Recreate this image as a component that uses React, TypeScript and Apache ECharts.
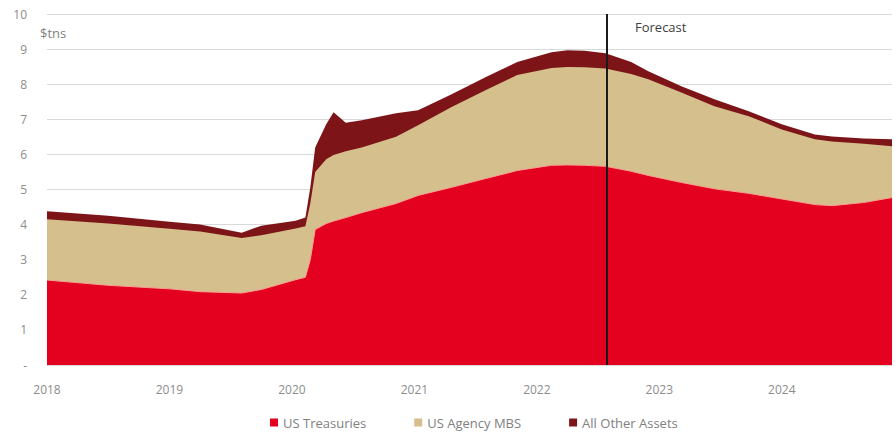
import React, { useEffect, useRef } from "react";
import * as echarts from "echarts";

// Time points as decimal years
const dates = [
  2018.0, 2018.5, 2019.0, 2019.25, 2019.59, 2019.75, 2020.03, 2020.11, 2020.15,
  2020.19, 2020.28, 2020.34, 2020.44, 2020.57, 2020.85, 2021.03, 2021.3, 2021.58,
  2021.84, 2022.12, 2022.25, 2022.39, 2022.56, 2022.77, 2022.91, 2023.18, 2023.45,
  2023.73, 2024.0, 2024.27, 2024.41, 2024.67, 2024.9,
];

// $ trillions
const usTreasuries = [
  2.42, 2.27, 2.17, 2.09, 2.05, 2.15, 2.43, 2.5, 3.0,
  3.86, 4.03, 4.1, 4.2, 4.34, 4.6, 4.83, 5.06, 5.31,
  5.54, 5.69, 5.7, 5.69, 5.66, 5.52, 5.4, 5.2, 5.02,
  4.89, 4.73, 4.57, 4.54, 4.63, 4.77,
];
const usAgencyMBS = [
  1.73, 1.76, 1.71, 1.71, 1.57, 1.55, 1.46, 1.45, 1.6,
  1.64, 1.83, 1.88, 1.89, 1.86, 1.9, 2.0, 2.28, 2.52,
  2.72, 2.77, 2.79, 2.79, 2.79, 2.77, 2.74, 2.56, 2.35,
  2.2, 1.98, 1.86, 1.83, 1.67, 1.46,
];
const allOtherAssets = [
  0.23, 0.22, 0.2, 0.2, 0.15, 0.27, 0.22, 0.25, 0.46,
  0.7, 1.0, 1.22, 0.81, 0.77, 0.67, 0.43, 0.37, 0.37,
  0.37, 0.45, 0.48, 0.47, 0.43, 0.34, 0.23, 0.18, 0.2,
  0.14, 0.15, 0.14, 0.14, 0.15, 0.2,
];

const seriesNames = ["US Treasuries", "US Agency MBS", "All Other Assets"];
const forecastStart = 2022.565;
const unitLabel = "$tns";
const forecastLabel = "Forecast";

const FONT = "'Open Sans', 'Noto Sans', sans-serif";
const RED = "#e4001f";
const TAN = "#d5bf8d";
const DARK = "#7d1518";

export default function App() {
  const ref = useRef<HTMLDivElement>(null);

  useEffect(() => {
    if (!ref.current) return;
    const chart = echarts.init(ref.current, undefined, { renderer: "svg" });

    // cumulative (stacked) tops
    const lvl1 = usTreasuries.map((v) => v);
    const lvl2 = usTreasuries.map((v, i) => v + usAgencyMBS[i]);
    const lvl3 = lvl2.map((v, i) => v + allOtherAssets[i]);
    const pair = (arr: number[]) =>
      dates.map((d, i) => [d, Math.round(arr[i] * 1000) / 1000]);

    chart.setOption({
      animation: false,
      backgroundColor: "#ffffff",
      textStyle: { fontFamily: FONT },
      grid: { left: 47, right: 0, top: 14, bottom: 67, containLabel: false },
      legend: {
        data: seriesNames,
        left: 265,
        top: 411,
        icon: "rect",
        itemWidth: 8,
        itemHeight: 8,
        itemGap: 48,
        textStyle: { fontSize: 13, color: "#808080", fontFamily: FONT },
      },
      xAxis: {
        type: "value",
        min: 2018,
        max: 2024.9,
        interval: 1,
        axisLine: { show: true, lineStyle: { color: "#d9d9d9" } },
        axisTick: { show: false },
        splitLine: { show: false },
        axisLabel: {
          margin: 18,
          fontSize: 12,
          color: "#8c8c8c",
          fontFamily: FONT,
          formatter: (v: number) => {
            const r = Math.round(v * 1000) / 1000;
            return Number.isInteger(r) ? String(r) : "";
          },
        },
      },
      yAxis: {
        type: "value",
        min: 0,
        max: 10,
        interval: 1,
        axisLine: { show: false },
        axisTick: { show: false },
        splitLine: { show: true, lineStyle: { color: "#d9d9d9", width: 1 } },
        axisLabel: {
          margin: 20,
          fontSize: 12,
          color: "#8c8c8c",
          fontFamily: FONT,
          formatter: (v: number) => (v === 0 ? "-" : String(v)),
        },
      },
      series: [
        {
          name: seriesNames[2],
          type: "line",
          data: pair(lvl3),
          symbol: "none",
          itemStyle: { color: DARK },
          lineStyle: { width: 0 },
          areaStyle: { color: DARK, opacity: 1 },
          z: 2,
        },
        {
          name: seriesNames[1],
          type: "line",
          data: pair(lvl2),
          symbol: "none",
          itemStyle: { color: TAN },
          lineStyle: { width: 0 },
          areaStyle: { color: TAN, opacity: 1 },
          z: 3,
        },
        {
          name: seriesNames[0],
          type: "line",
          data: pair(lvl1),
          symbol: "none",
          itemStyle: { color: RED },
          lineStyle: { color: "#f4a393", width: 1 },
          areaStyle: { color: RED, opacity: 1 },
          z: 4,
          markLine: {
            silent: true,
            symbol: "none",
            label: { show: false },
            lineStyle: { color: "#1a1a1a", width: 2, type: "solid" },
            data: [{ xAxis: forecastStart }],
          },
        },
      ],
      graphic: [
        {
          type: "text",
          left: 40,
          top: 26,
          style: { text: unitLabel, fontSize: 13, fill: "#7f7f7f", fontFamily: FONT },
        },
        {
          type: "text",
          left: 635,
          top: 20,
          style: { text: forecastLabel, fontSize: 13, fill: "#404040", fontFamily: FONT },
        },
      ],
    });

    return () => chart.dispose();
  }, []);

  return (
    <div
      ref={ref}
      style={{ position: "fixed", left: 0, top: 0, width: 895, height: 432 }}
    />
  );
}
